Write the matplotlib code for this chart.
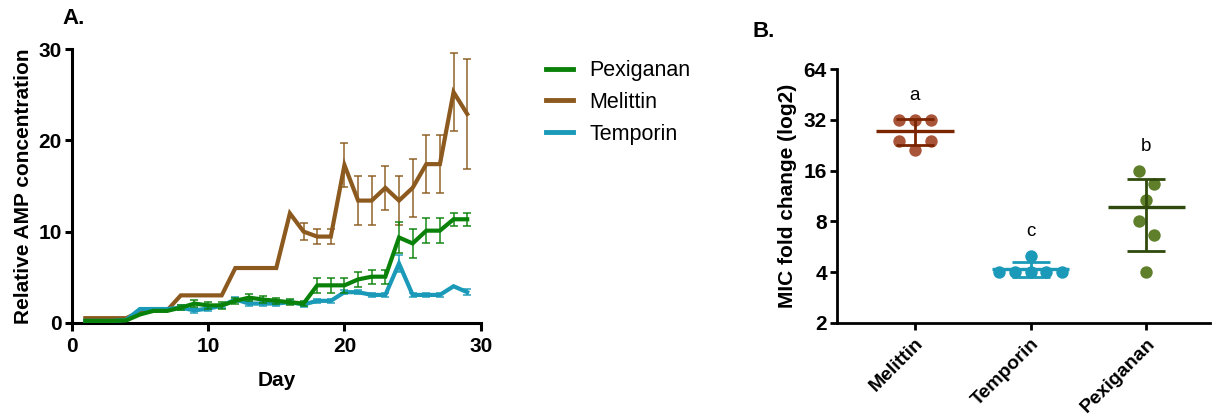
import numpy as np
import matplotlib
matplotlib.use("Agg")
import matplotlib.pyplot as plt
from matplotlib.ticker import FixedLocator, FixedFormatter

plt.rcParams['font.family'] = ['Liberation Sans', 'DejaVu Sans']

# ---------------- data ----------------
days = list(range(1, 30))
melittin = [0.5, 0.5, 0.5, 0.5, 1.2, 1.3, 1.35, 3, 3, 3, 3, 6, 6, 6, 6, 12, 10, 9.45, 9.45,
            17.3, 13.4, 13.4, 14.8, 13.4, 14.8, 17.4, 17.4, 25.3, 22.9]
melittin_err = [0] * 16 + [0.9, 0.85, 0.85, 2.45, 2.65, 2.65, 2.4, 2.65, 3.2, 3.2, 3.2, 4.3, 6.0]
pexiganan = [0.2, 0.2, 0.2, 0.25, 0.9, 1.3, 1.3, 1.65, 2.1, 1.9, 1.9, 2.4, 2.75, 2.55, 2.4, 2.25,
             2.1, 4.1, 4.1, 4.1, 4.75, 5.05, 5.05, 9.35, 8.7, 10.1, 10.1, 11.35, 11.35]
pexiganan_err = [0] * 7 + [0.3, 0.35, 0.35, 0.35, 0.35, 0.35, 0.35, 0.3, 0.3, 0.3, 0.8, 0.8, 0.8,
                           0.85, 0.75, 0.75, 1.7, 1.6, 1.35, 1.35, 0.7, 0.7]
temporin = [0.2, 0.2, 0.2, 0.3, 1.5, 1.5, 1.5, 1.65, 1.35, 1.55, 1.85, 2.55, 2.1, 2.1, 2.1, 2.25,
            2.0, 2.4, 2.4, 3.35, 3.35, 3.05, 3.05, 6.5, 3.05, 3.05, 3.05, 4.0, 3.35]
temporin_err = [0] * 7 + [0.25] * 16 + [0.9, 0.25, 0.25, 0.25, 0, 0.3]

mic_categories = ['Melittin', 'Temporin', 'Pexiganan']
mic_melittin = [32, 32, 32, 24, 24, 21.33]
mic_temporin = [4, 4, 4, 4, 4, 5]
mic_pexiganan = [16, 13.33, 10.67, 8, 6.67, 4]
mic_letters = ['a', 'c', 'b']
mic_yticks = [2, 4, 8, 16, 32, 64]

# ---------------- styles ----------------
col_pex = '#0a820a'
col_mel = '#8c5a1e'
col_tem = '#1a9ab8'

fig = plt.figure(figsize=(12.17, 4.15), dpi=100)

# ---------------- Panel A ----------------
axA = fig.add_axes([0.0589, 0.2224, 0.3362, 0.6588])

series = [
    ('Melittin', melittin, melittin_err, col_mel, 2),
    ('Temporin', temporin, temporin_err, col_tem, 3),
    ('Pexiganan', pexiganan, pexiganan_err, col_pex, 4),
]
handles = {}
for name, vals, errs, col, z in series:
    d = np.array(days)
    v = np.array(vals, dtype=float)
    e = np.array(errs, dtype=float)
    ln, = axA.plot(d, v, color=col, lw=3.0, zorder=z, solid_joinstyle='miter', label=name)
    m = e > 0
    axA.errorbar(d[m], v[m], yerr=e[m], fmt='none', ecolor=col, elinewidth=1.3,
                 capsize=2.6, capthick=1.3, alpha=0.8, zorder=z - 0.5)
    handles[name] = ln

axA.set_xlim(0, 30)
axA.set_ylim(0, 30)
axA.set_xticks([0, 10, 20, 30])
axA.set_yticks([0, 10, 20, 30])
for s in ['top', 'right']:
    axA.spines[s].set_visible(False)
for s in ['left', 'bottom']:
    axA.spines[s].set_linewidth(2.2)
axA.tick_params(axis='y', direction='out', width=2.2, length=5, labelsize=15, pad=2)
axA.tick_params(axis='x', direction='out', width=2.2, length=6, labelsize=15, pad=4)
for lab in axA.get_xticklabels() + axA.get_yticklabels():
    lab.set_fontweight('bold')
axA.set_xlabel('Day', fontsize=15, fontweight='bold', labelpad=11)
axA.set_ylabel('Relative AMP concentration', fontsize=15, fontweight='bold', labelpad=4)
fig.text(0.051, 0.955, 'A.', fontsize=16, fontweight='bold', ha='left', va='center')

leg_order = ['Pexiganan', 'Melittin', 'Temporin']
leg = fig.legend([handles[n] for n in leg_order], leg_order, loc='upper left',
                 bbox_to_anchor=(0.433, 0.902), frameon=False, fontsize=15.5,
                 handlelength=1.25, handletextpad=0.75, labelspacing=0.5)
for l in leg.get_lines():
    l.set_linewidth(3.5)

# ---------------- Panel B ----------------
axB = fig.add_axes([0.6875, 0.2224, 0.3067, 0.6106])
mic_sets = [mic_melittin, mic_temporin, mic_pexiganan]
dot_cols = ['#a8553a', '#1a9ab8', '#5f7f2a']
line_cols = ['#7a2400', '#1a9ab8', '#2f4a0c']
jitter = [
    [-0.135, 0.0, 0.135, -0.135, 0.135, 0.0],
    [-0.27, -0.135, 0.0, 0.135, 0.27, 0.0],
    [-0.067, 0.067, 0.0, -0.067, 0.067, 0.0],
]
for i, (vals, dc, lc, jit, letter) in enumerate(zip(mic_sets, dot_cols, line_cols, jitter, mic_letters)):
    v = np.array(vals, dtype=float)
    axB.scatter(i + np.array(jit), v, s=80, color=dc, zorder=2, linewidths=0)
    mean = v.mean()
    sd = v.std(ddof=1)
    axB.hlines(mean, i - 0.335, i + 0.335, color=lc, lw=2.4, zorder=3)
    axB.vlines(i, mean - sd, mean + sd, color=lc, lw=2.0, zorder=3)
    axB.hlines([mean - sd, mean + sd], i - 0.165, i + 0.165, color=lc, lw=2.0, zorder=3)
    axB.text(i, v.max() * 1.4, letter, ha='center', va='center', fontsize=13.5)

axB.set_yscale('log', base=2)
axB.set_ylim(2, 64)
axB.yaxis.set_major_locator(FixedLocator(mic_yticks))
axB.yaxis.set_major_formatter(FixedFormatter([str(t) for t in mic_yticks]))
axB.yaxis.set_minor_locator(FixedLocator([]))
axB.set_xlim(-0.676, 2.55)
axB.set_xticks(range(len(mic_categories)))
axB.set_xticklabels(mic_categories, rotation=45, ha='right', rotation_mode='anchor')
for s in ['top', 'right']:
    axB.spines[s].set_visible(False)
for s in ['left', 'bottom']:
    axB.spines[s].set_linewidth(2.0)
axB.tick_params(axis='y', direction='out', width=2.0, length=5, labelsize=15, pad=2)
axB.tick_params(axis='x', direction='out', width=2.0, length=5, labelsize=14, pad=4)
for lab in axB.get_xticklabels() + axB.get_yticklabels():
    lab.set_fontweight('bold')
axB.set_ylabel('MIC fold change (log2)', fontsize=15, fontweight='bold', labelpad=5)
fig.text(0.618, 0.923, 'B.', fontsize=16, fontweight='bold', ha='left', va='center')

fig.savefig('out.png', dpi=100)
